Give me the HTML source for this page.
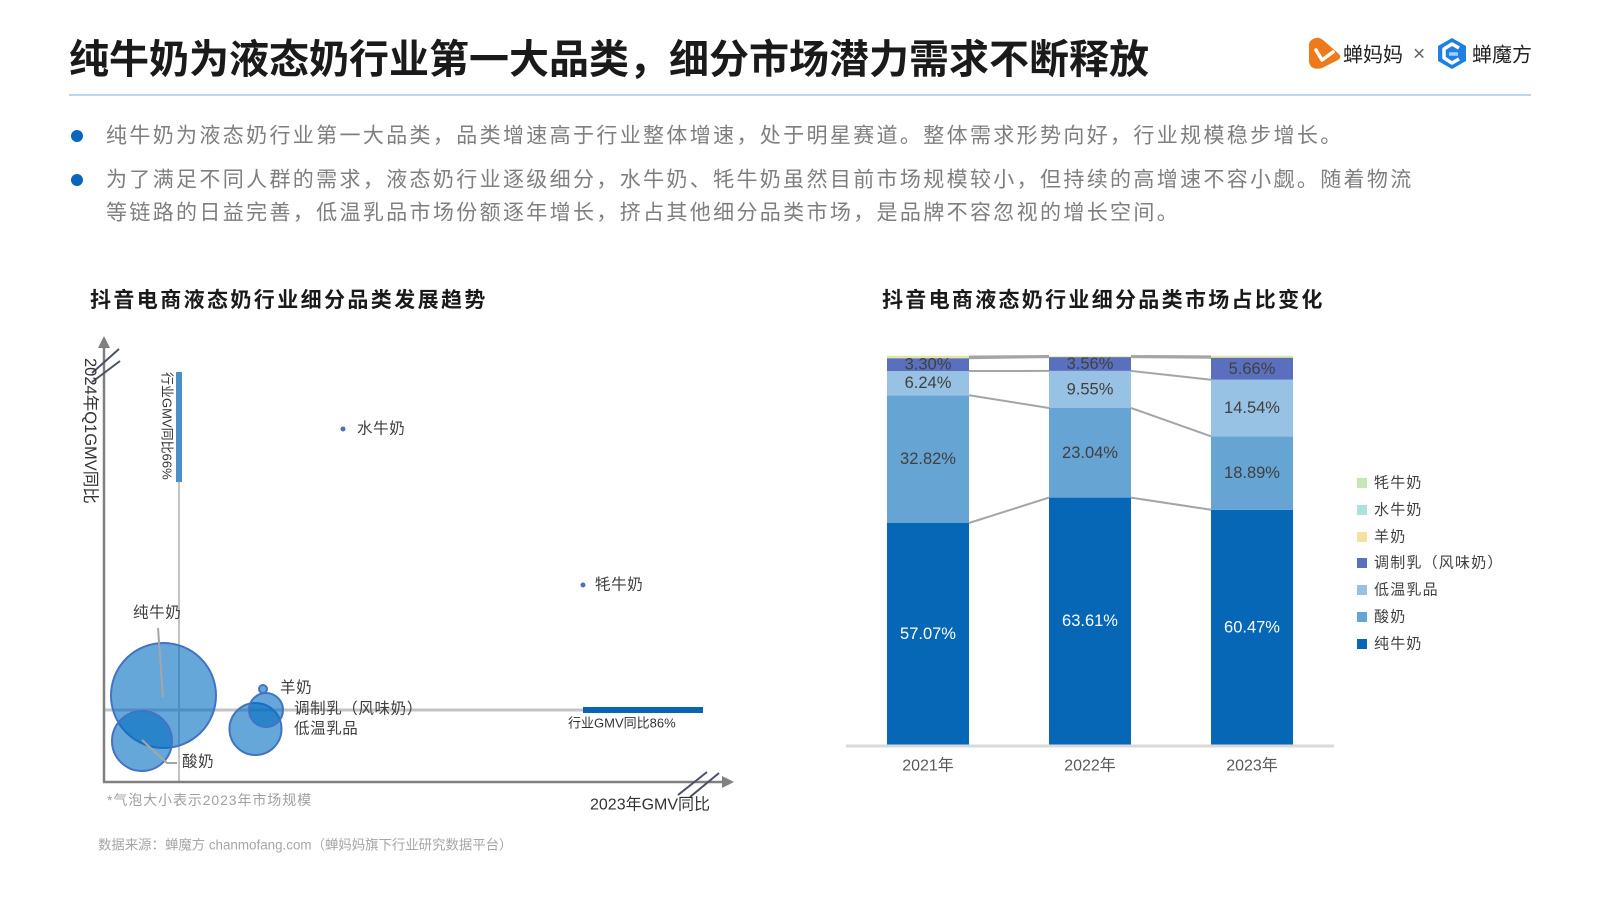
<!DOCTYPE html>
<html>
<head>
<meta charset="utf-8">
<style>
html,body{margin:0;padding:0;background:#fff;}
svg{display:block;}
text{font-family:"Liberation Sans","Noto Sans CJK SC",sans-serif;}
.cjk{font-family:"Noto Sans CJK SC","Liberation Sans",sans-serif;}
</style>
</head>
<body>
<svg width="1600" height="900" viewBox="0 0 1600 900" xmlns="http://www.w3.org/2000/svg">
<rect width="1600" height="900" fill="#fff"/>

<!-- Title -->
<text x="69" y="56" dominant-baseline="central" font-size="40" font-weight="700" fill="#1a1a1a" letter-spacing="0" class="cjk">纯牛奶为液态奶行业第一大品类，细分市场潜力需求不断释放</text>

<!-- Logos -->
<path d="M1313,39 Q1318,36 1323,40 L1339,54 Q1342,57 1338,60 L1322,68 Q1311,71 1309,62 L1309,45 Q1309,41 1313,39 Z" fill="#ef7a1b"/>
<path d="M1316,50 L1322,60 L1333,52" fill="none" stroke="#fff" stroke-width="3.5" stroke-linecap="round" stroke-linejoin="round"/>
<text x="1343" y="53" dominant-baseline="central" font-size="20" font-weight="400" fill="#222" class="cjk">蝉妈妈</text>
<text x="1413" y="54" dominant-baseline="central" font-size="21" fill="#666">×</text>
<polygon points="1452,38 1466,46 1466,61 1452,69 1438,61 1438,46" fill="#1f7fe3"/>
<path d="M1459,48 L1452,44 L1444,49 L1444,58 L1452,63 L1459,59" fill="none" stroke="#fff" stroke-width="3.5" stroke-linejoin="round"/>
<path d="M1449,54 L1458,54" stroke="#9fd0ff" stroke-width="3.5"/>
<text x="1472" y="53" dominant-baseline="central" font-size="20" font-weight="400" fill="#222" class="cjk">蝉魔方</text>

<!-- separator -->
<line x1="69" y1="95" x2="1531" y2="95" stroke="#bcd6ea" stroke-width="2"/>

<!-- Bullets -->
<circle cx="77" cy="136" r="6" fill="#0a66b8"/>
<circle cx="77" cy="180" r="6" fill="#0a66b8"/>
<g font-size="21" fill="#7f7f7f" letter-spacing="2.35" class="cjk">
<text x="106" y="136" dominant-baseline="central">纯牛奶为液态奶行业第一大品类，品类增速高于行业整体增速，处于明星赛道。整体需求形势向好，行业规模稳步增长。</text>
<text x="106" y="180" dominant-baseline="central">为了满足不同人群的需求，液态奶行业逐级细分，水牛奶、牦牛奶虽然目前市场规模较小，但持续的高增速不容小觑。随着物流</text>
<text x="106" y="213" dominant-baseline="central">等链路的日益完善，低温乳品市场份额逐年增长，挤占其他细分品类市场，是品牌不容忽视的增长空间。</text>
</g>

<!-- Chart titles -->
<text x="90" y="299" dominant-baseline="central" font-size="21" font-weight="700" fill="#1a1a1a" letter-spacing="2.4" class="cjk">抖音电商液态奶行业细分品类发展趋势</text>
<text x="882" y="299" dominant-baseline="central" font-size="21" font-weight="700" fill="#1a1a1a" letter-spacing="2.3" class="cjk">抖音电商液态奶行业细分品类市场占比变化</text>

<!-- ============ LEFT BUBBLE CHART ============ -->
<line x1="179" y1="372" x2="179" y2="782" stroke="#c3c3c3" stroke-width="2"/>
<line x1="104" y1="710" x2="703" y2="710" stroke="#c3c3c3" stroke-width="3"/>
<rect x="176" y="372" width="6" height="110" fill="#4a90c8"/>
<rect x="583" y="707" width="120" height="6" fill="#0a64b4"/>

<line x1="104" y1="782" x2="104" y2="346" stroke="#808080" stroke-width="2.5"/>
<polygon points="104,336 98,348 110,348" fill="#808080"/>
<line x1="103" y1="782" x2="722" y2="782" stroke="#808080" stroke-width="2.5"/>
<polygon points="734,782 722,776 722,788" fill="#808080"/>

<line x1="92" y1="373" x2="119" y2="349" stroke="#4a5068" stroke-width="2"/>
<line x1="92" y1="382" x2="120" y2="361" stroke="#4a5068" stroke-width="2"/>
<line x1="678" y1="795" x2="707" y2="772" stroke="#4a5068" stroke-width="2"/>
<line x1="690" y1="797" x2="719" y2="773" stroke="#4a5068" stroke-width="2"/>

<text transform="translate(90,358) rotate(90)" x="0" y="0" dominant-baseline="central" font-size="16.5" fill="#333">2024年Q1GMV同比</text>
<text transform="translate(167,372) rotate(90)" x="0" y="0" dominant-baseline="central" font-size="13" fill="#333">行业GMV同比66%</text>
<text x="568" y="723" dominant-baseline="central" font-size="13" fill="#333">行业GMV同比86%</text>
<text x="590" y="805" dominant-baseline="central" font-size="16" fill="#333">2023年GMV同比</text>

<g fill="rgba(0,108,192,0.6)" stroke="#4472c4" stroke-width="2">
<circle cx="163.5" cy="695.5" r="52.5"/>
<circle cx="142" cy="741" r="30"/>
<circle cx="255.5" cy="729" r="26"/>
<circle cx="266" cy="710" r="17"/>
<circle cx="263" cy="689" r="4"/>
</g>
<circle cx="343" cy="429" r="2.5" fill="#4a70c0"/>
<circle cx="583" cy="585" r="2.5" fill="#4a70c0"/>

<polyline points="158,628 163,697" fill="none" stroke="#a6a6a6" stroke-width="2"/>
<polyline points="142,740 167,763 177,763" fill="none" stroke="#a6a6a6" stroke-width="2"/>

<g font-size="15.5" fill="#404040" letter-spacing="0.6" class="cjk">
<text x="133" y="613" dominant-baseline="central">纯牛奶</text>
<text x="182" y="762" dominant-baseline="central">酸奶</text>
<text x="280" y="688" dominant-baseline="central">羊奶</text>
<text x="294" y="709" dominant-baseline="central">调制乳（风味奶）</text>
<text x="294" y="729" dominant-baseline="central">低温乳品</text>
<text x="357" y="429" dominant-baseline="central">水牛奶</text>
<text x="595" y="585" dominant-baseline="central">牦牛奶</text>
</g>

<text x="107" y="800" dominant-baseline="central" font-size="14" fill="#a0a0a0" letter-spacing="0.9">*气泡大小表示2023年市场规模</text>

<text x="98" y="845" dominant-baseline="central" font-size="13.4" fill="#a6a6a6">数据来源：蝉魔方 chanmofang.com（蝉妈妈旗下行业研究数据平台）</text>

<!-- ============ RIGHT STACKED BAR CHART ============ -->
<rect x="887" y="523.0" width="82" height="222.0" fill="#0567b5"/>
<rect x="887" y="395.3" width="82" height="127.7" fill="#65a4d3"/>
<rect x="887" y="371.0" width="82" height="24.3" fill="#97c2e3"/>
<rect x="887" y="358.2" width="82" height="12.8" fill="#5a70be"/>
<rect x="887" y="356.6" width="82" height="1.6" fill="#f0e2a2"/>
<rect x="887" y="355.8" width="82" height="0.8" fill="#c6e6b4"/>
<rect x="1049" y="497.6" width="82" height="247.4" fill="#0567b5"/>
<rect x="1049" y="408.0" width="82" height="89.6" fill="#65a4d3"/>
<rect x="1049" y="370.9" width="82" height="37.1" fill="#97c2e3"/>
<rect x="1049" y="357.1" width="82" height="13.8" fill="#5a70be"/>
<rect x="1049" y="356.2" width="82" height="0.9" fill="#f0e2a2"/>
<rect x="1211" y="509.8" width="82" height="235.2" fill="#0567b5"/>
<rect x="1211" y="436.3" width="82" height="73.5" fill="#65a4d3"/>
<rect x="1211" y="379.7" width="82" height="56.6" fill="#97c2e3"/>
<rect x="1211" y="357.7" width="82" height="22.0" fill="#5a70be"/>
<rect x="1211" y="356.4" width="82" height="1.3" fill="#f0e2a2"/>
<rect x="1211" y="355.8" width="82" height="0.6" fill="#c6e6b4"/>

<g stroke="#a5a5a5" stroke-width="2" fill="none">
<line x1="969" y1="523" x2="1049" y2="497.6"/>
<line x1="1131" y1="497.6" x2="1211" y2="509.8"/>
<line x1="969" y1="395.3" x2="1049" y2="408"/>
<line x1="1131" y1="408" x2="1211" y2="436.3"/>
<line x1="969" y1="371" x2="1049" y2="370.9"/>
<line x1="1131" y1="370.9" x2="1211" y2="379.7"/>
<line x1="969" y1="358.2" x2="1049" y2="357.1"/>
<line x1="1131" y1="357.1" x2="1211" y2="357.7"/>
<line x1="969" y1="356.5" x2="1049" y2="356"/>
<line x1="1131" y1="356" x2="1211" y2="356.4"/>
</g>

<line x1="846" y1="746" x2="1334" y2="746" stroke="#d9d9d9" stroke-width="3"/>

<g font-size="16.5" text-anchor="middle" fill="#404040">
<text x="928" y="634" dominant-baseline="central" fill="#fff">57.07%</text>
<text x="928" y="459" dominant-baseline="central">32.82%</text>
<text x="928" y="383" dominant-baseline="central">6.24%</text>
<text x="928" y="364.5" dominant-baseline="central">3.30%</text>
<text x="1090" y="621" dominant-baseline="central" fill="#fff">63.61%</text>
<text x="1090" y="453" dominant-baseline="central">23.04%</text>
<text x="1090" y="389.5" dominant-baseline="central">9.55%</text>
<text x="1090" y="364" dominant-baseline="central">3.56%</text>
<text x="1252" y="627.5" dominant-baseline="central" fill="#fff">60.47%</text>
<text x="1252" y="473" dominant-baseline="central">18.89%</text>
<text x="1252" y="408" dominant-baseline="central">14.54%</text>
<text x="1252" y="369" dominant-baseline="central">5.66%</text>
</g>

<g font-size="16" text-anchor="middle" fill="#595959">
<text x="928" y="766" dominant-baseline="central">2021年</text>
<text x="1090" y="766" dominant-baseline="central">2022年</text>
<text x="1252" y="766" dominant-baseline="central">2023年</text>
</g>

<rect x="1357" y="478" width="10" height="10" fill="#c6e6b4"/>
<rect x="1357" y="505" width="10" height="10" fill="#a9e3dc"/>
<rect x="1357" y="532" width="10" height="10" fill="#f3e3a3"/>
<rect x="1357" y="558" width="10" height="10" fill="#5a70be"/>
<rect x="1357" y="585" width="10" height="10" fill="#97c2e3"/>
<rect x="1357" y="612" width="10" height="10" fill="#65a4d3"/>
<rect x="1357" y="639" width="10" height="10" fill="#0567b5"/>
<g font-size="15" fill="#404040" letter-spacing="1.2" class="cjk">
<text x="1374" y="483" dominant-baseline="central">牦牛奶</text>
<text x="1374" y="510" dominant-baseline="central">水牛奶</text>
<text x="1374" y="537" dominant-baseline="central">羊奶</text>
<text x="1374" y="563" dominant-baseline="central">调制乳（风味奶）</text>
<text x="1374" y="590" dominant-baseline="central">低温乳品</text>
<text x="1374" y="617" dominant-baseline="central">酸奶</text>
<text x="1374" y="644" dominant-baseline="central">纯牛奶</text>
</g>
</svg>
</body>
</html>
